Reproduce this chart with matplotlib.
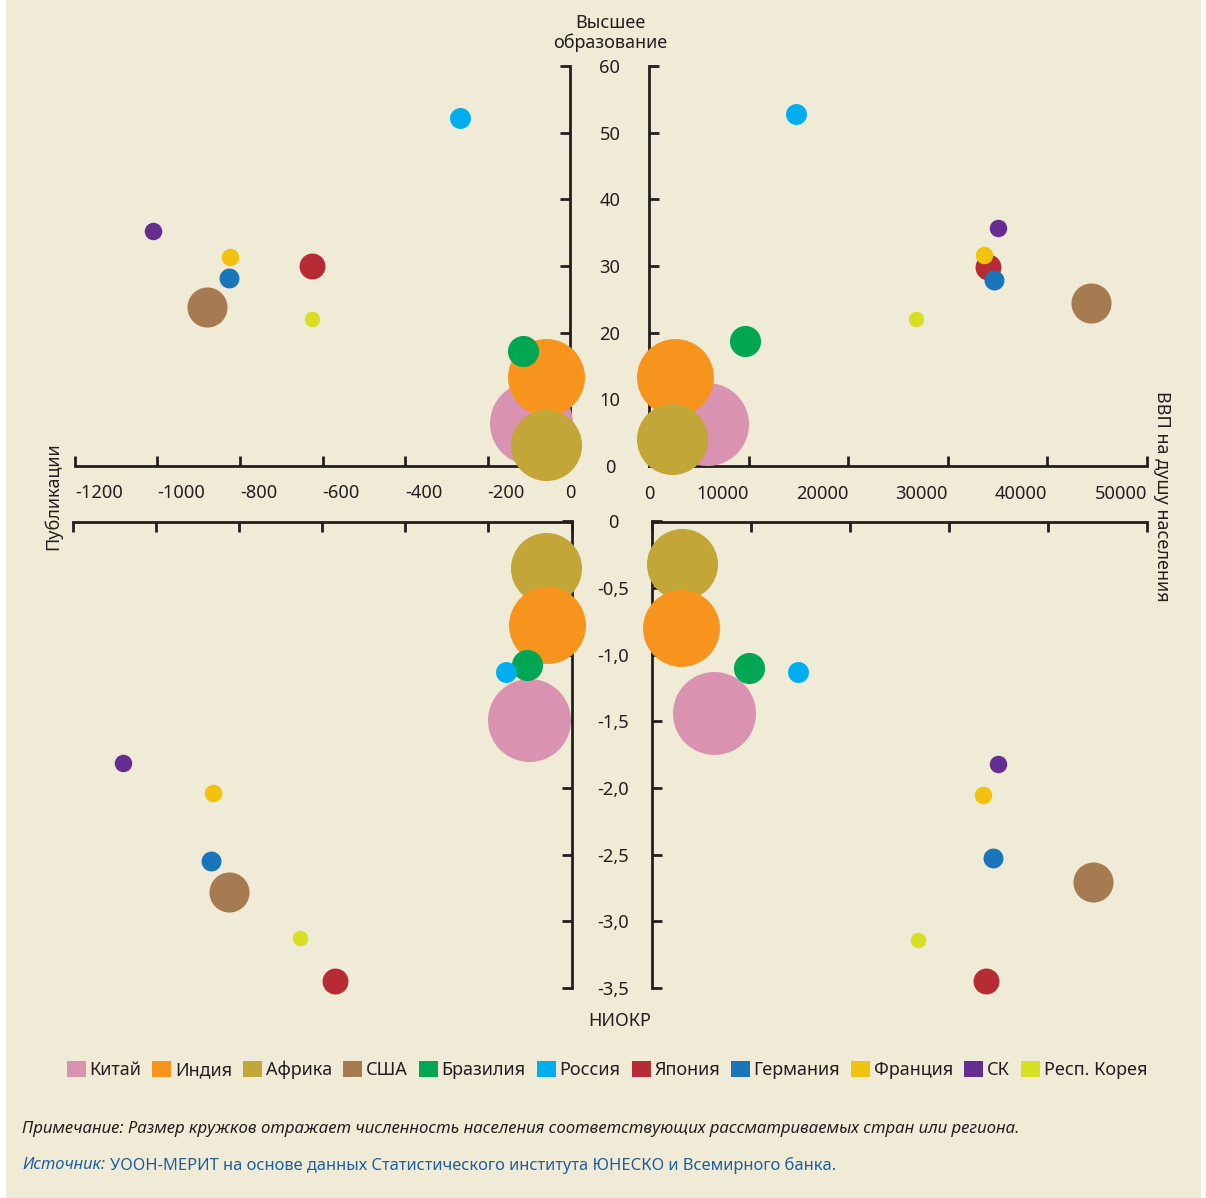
import matplotlib
matplotlib.use('Agg')
import matplotlib.pyplot as plt
from matplotlib.patches import Patch, Rectangle
import numpy as np

plt.rcParams['font.family'] = ['Noto Sans', 'DejaVu Sans']

W, H = 1206, 1198
BG = '#f0ebd6'
INK = '#231f20'
BLUE = '#1f5f9c'

countries = ['Китай', 'Индия', 'Африка', 'США', 'Бразилия', 'Россия',
             'Япония', 'Германия', 'Франция', 'СК', 'Респ. Корея']
colors = ['#d993b0', '#f7941d', '#c2a637', '#a77b51', '#00a651', '#00aeef',
          '#b72b35', '#1b75bb', '#f1c30e', '#662d91', '#d7df23']
# население (млн), как его передают площади кружков
population = [1350, 1160, 990, 315, 190, 86, 132, 78, 60, 60, 47]

# публикации / высшее образование (верхний левый)
pubs_tl = [-95, -58, -58, -879, -114, -267, -625, -826, -825, -1012, -625]
edu_tl = [6.5, 13.4, 3.1, 23.8, 17.3, 52.2, 30.0, 28.2, 31.3, 35.2, 22.1]
# ВВП на душу / высшее образование (верхний правый)
gdp_tr = [5850, 2610, 2280, 44410, 9670, 14760, 34000, 34640, 33600, 35040, 26810]
edu_tr = [6.3, 13.4, 4.0, 24.5, 18.8, 52.8, 29.9, 27.9, 31.7, 35.7, 22.1]
# публикации / НИОКР (нижний левый)
pubs_bl = [-102, -59, -61, -823, -108, -157, -568, -867, -863, -1078, -654]
rd_bl = [-1.49, -0.78, -0.35, -2.78, -1.08, -1.13, -3.45, -2.55, -2.04, -1.81, -3.13]
# ВВП на душу / НИОКР (нижний правый)
gdp_br = [6230, 2890, 3030, 44510, 9760, 14720, 33710, 34410, 33400, 34920, 26840]
rd_br = [-1.44, -0.80, -0.32, -2.71, -1.10, -1.13, -3.45, -2.53, -2.05, -1.82, -3.14]

pubs_ticks = [-1200, -1000, -800, -600, -400, -200, 0]
gdp_ticks = [0, 10000, 20000, 30000, 40000, 50000]
edu_ticks = [0, 10, 20, 30, 40, 50, 60]
rd_ticks = [0, -0.5, -1.0, -1.5, -2.0, -2.5, -3.0, -3.5]
rd_labels = ['0', '-0,5', '-1,0', '-1,5', '-2,0', '-2,5', '-3,0', '-3,5']

order_top = list(range(len(countries)))
order_bottom = [0, 2, 1] + list(range(3, len(countries)))


def box(left, right, top, bottom):
    return [left / W, 1 - bottom / H, (right - left) / W, (bottom - top) / H]


def setup(ax, xlim, ylim, xticks, yticks, xside, yside):
    ax.set_facecolor('none')
    ax.set_xlim(xlim)
    ax.set_ylim(ylim)
    for s in ['top', 'bottom', 'left', 'right']:
        ax.spines[s].set_visible(s in (xside, yside))
        ax.spines[s].set_linewidth(2.0)
        ax.spines[s].set_color(INK)
        ax.spines[s].set_capstyle('projecting')
    ax.xaxis.set_ticks_position(xside)
    ax.yaxis.set_ticks_position(yside)
    ax.set_xticks(xticks)
    ax.set_yticks(yticks)
    ax.tick_params(direction='in', length=7.5, width=2.0, color=INK,
                   labelcolor=INK, labelsize=13.2)


def bubbles(ax, xs, ys, order):
    for i in order:
        ax.scatter(xs[i], ys[i], s=population[i] * 2.645, color=colors[i],
                   linewidths=0, clip_on=False, zorder=3)


fig = plt.figure(figsize=(W / 100, H / 100), dpi=100)
fig.patch.set_facecolor('white')
fig.patches.append(Rectangle((6 / W, 0), (1201 - 6) / W, 1, transform=fig.transFigure,
                             facecolor=BG, edgecolor='none', zorder=-10))

ax_tl = fig.add_axes(box(75, 570, 66, 466))
ax_tr = fig.add_axes(box(649, 1147, 66, 466))
ax_bl = fig.add_axes(box(72.5, 571.5, 521.5, 987.7))
ax_br = fig.add_axes(box(652.3, 1147, 521.5, 987.7))

# верхний левый
setup(ax_tl, (-1200, 0), (0, 60), pubs_ticks, edu_ticks, 'bottom', 'right')
ax_tl.set_xticklabels([str(t) for t in pubs_ticks], ha='left')
ax_tl.get_xticklabels()[-1].set_horizontalalignment('center')
ax_tl.set_yticklabels([str(t) for t in edu_ticks], ha='center')
ax_tl.tick_params(axis='x', pad=13)
ax_tl.tick_params(axis='y', pad=28.8)
bubbles(ax_tl, pubs_tl, edu_tl, order_top)

# верхний правый
setup(ax_tr, (0, 50000), (0, 60), gdp_ticks, edu_ticks, 'bottom', 'left')
ax_tr.set_xticklabels([str(t) for t in gdp_ticks], ha='right')
ax_tr.tick_params(axis='x', pad=14)
ax_tr.tick_params(axis='y', labelleft=False)
ax_tr.get_xticklabels()[0].set_horizontalalignment('center')
bubbles(ax_tr, gdp_tr, edu_tr, order_top)

# нижний левый
setup(ax_bl, (-1200, 0), (-3.5, 0), pubs_ticks, rd_ticks, 'top', 'right')
ax_bl.tick_params(axis='x', labeltop=False, labelbottom=False)
ax_bl.set_yticklabels(rd_labels, ha='center')
ax_bl.tick_params(axis='y', pad=29.9)
bubbles(ax_bl, pubs_bl, rd_bl, order_bottom)

# нижний правый
setup(ax_br, (0, 50000), (-3.5, 0), gdp_ticks, rd_ticks, 'top', 'left')
ax_br.tick_params(axis='x', labeltop=False, labelbottom=False)
ax_br.tick_params(axis='y', labelleft=False)
bubbles(ax_br, gdp_br, rd_br, order_bottom)

# подписи осей
fig.text(610 / W, 1 - 33 / H, 'Высшее\nобразование', ha='center', va='center',
         fontsize=13, color=INK, linespacing=1.05)
fig.text(53 / W, 1 - 496 / H, 'Публикации', rotation=90, ha='center', va='center',
         fontsize=13, color=INK)
fig.text(1162 / W, 1 - 496 / H, 'ВВП на душу населения', rotation=270, ha='center',
         va='center', fontsize=13, color=INK)
fig.text(620 / W, 1 - 1021 / H, 'НИОКР', ha='center', va='center', fontsize=13, color=INK)

# легенда
handles = [Patch(facecolor=c, edgecolor='none') for c in colors]
fig.legend(handles, countries, loc='center', bbox_to_anchor=(607 / W, 1 - 1070 / H),
           ncol=len(countries), frameon=False, fontsize=13, handlelength=1.05,
           handleheight=1.05, handletextpad=0.2, columnspacing=0.62, borderpad=0,
           labelcolor=INK)

# примечание и источник
fig.text(22 / W, 1 - 1129 / H,
         'Примечание: Размер кружков отражает численность населения соответствующих '
         'рассматриваемых стран или региона.',
         ha='left', va='center', fontsize=12.1, style='italic', color=INK)
src = fig.text(22 / W, 1 - 1165 / H, 'Источник:', ha='left', va='center',
               fontsize=11.9, style='italic', color=BLUE)
renderer = fig.canvas.get_renderer()
bb = src.get_window_extent(renderer)
fig.text((bb.x1 + 5) / W, 1 - 1165 / H,
         'УООН-МЕРИТ на основе данных Статистического института ЮНЕСКО и Всемирного банка.',
         ha='left', va='center', fontsize=11.9, color=BLUE)

fig.savefig('out.png', dpi=100, facecolor=fig.get_facecolor())
